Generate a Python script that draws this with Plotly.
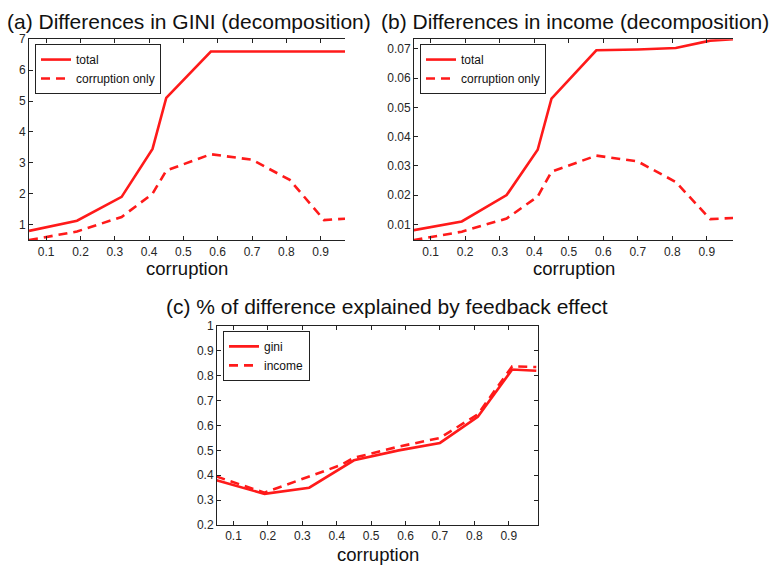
import plotly.graph_objects as go

W, H = 770, 572

corruption = [0.05, 0.19, 0.32, 0.41, 0.45, 0.58, 0.70, 0.81, 0.91, 0.98]

gini_total = [0.80, 1.13, 1.90, 3.45, 5.10, 6.60, 6.60, 6.60, 6.60, 6.60]
gini_corr_only = [0.50, 0.78, 1.25, 2.00, 2.75, 3.28, 3.10, 2.45, 1.15, 1.20]

income_total = [0.0080, 0.0110, 0.0200, 0.0355, 0.0530, 0.0695, 0.0698, 0.0703, 0.0728, 0.0733]
income_corr_only = [0.0046, 0.0075, 0.0120, 0.0195, 0.0280, 0.0335, 0.0315, 0.0245, 0.0118, 0.0122]

feedback_gini = [0.380, 0.325, 0.350, 0.425, 0.460, 0.500, 0.530, 0.635, 0.825, 0.820]
feedback_income = [0.395, 0.330, 0.395, 0.440, 0.470, 0.515, 0.550, 0.645, 0.838, 0.835]

titles = ["(a) Differences in GINI (decomposition)",
          "(b) Differences in income (decomposition)",
          "(c) % of difference explained by feedback effect"]
xlabel = "corruption"
x_ticks = [0.1, 0.2, 0.3, 0.4, 0.5, 0.6, 0.7, 0.8, 0.9]

RED = "#ff1a1a"
DASH = "9px,6px"
FONT = "Liberation Sans, Arial, sans-serif"
TICKC = "#262626"

def px_x(p):
    return p / W

def px_y(p):
    return 1 - p / H

# panel boxes in pixels: left, right, top, bottom
boxes = {
    "a": (29, 345, 33, 239),
    "b": (414, 733, 33, 239),
    "c": (217, 538, 327, 531),
}

fig = go.Figure()

def add_pair(xa, ya, y1, y2, n1, n2, legend):
    fig.add_trace(go.Scatter(x=corruption, y=y1, mode="lines", name=n1,
                             line=dict(color=RED, width=2.6), xaxis=xa, yaxis=ya,
                             legend=legend))
    fig.add_trace(go.Scatter(x=corruption, y=y2, mode="lines", name=n2,
                             line=dict(color=RED, width=2.6, dash=DASH), xaxis=xa, yaxis=ya,
                             legend=legend))

add_pair("x", "y", gini_total, gini_corr_only, "total", "corruption only", "legend")
add_pair("x2", "y2", income_total, income_corr_only, "total", "corruption only", "legend2")
add_pair("x3", "y3", feedback_gini, feedback_income, "gini", "income", "legend3")

xranges = {"a": [0.05, 0.971], "b": [0.0516, 0.976], "c": [0.052, 0.985]}
yranges = {"a": [0.5, 7], "b": [0.0046, 0.0733], "c": [0.2, 1.0]}
ydticks = {"a": 1, "b": 0.01, "c": 0.1}
ytick0 = {"a": 1, "b": 0.01, "c": 0.2}

common_axis = dict(showgrid=False, zeroline=False, showline=True, linecolor="#222",
                   linewidth=1, ticks="inside", ticklen=4, tickcolor="#222",
                   tickfont=dict(family=FONT, size=12, color=TICKC))

layout = dict(width=W, height=H, margin=dict(l=0, r=0, t=0, b=0),
              paper_bgcolor="white", plot_bgcolor="white", showlegend=True)

keys = ["a", "b", "c"]
for i, k in enumerate(keys):
    l, r, t, b = boxes[k]
    sx = "" if i == 0 else str(i + 1)
    xd = [px_x(l), px_x(r)]
    yd = [px_y(b), px_y(t)]
    mirror_y = "ticks" if k == "c" else False
    layout["xaxis" + sx] = dict(domain=xd, range=xranges[k], anchor="y" + sx,
                                tickvals=x_ticks, ticktext=[f"{v:.1f}" for v in x_ticks],
                                mirror="ticks", **common_axis)
    layout["yaxis" + sx] = dict(domain=yd, range=yranges[k], anchor="x" + sx,
                                tick0=ytick0[k], dtick=ydticks[k], mirror=mirror_y,
                                **common_axis)
    if k != "c":
        rid = str(i + 4)
        ax = dict(common_axis)
        ax.update(showline=False, showticklabels=False)
        layout["yaxis" + rid] = dict(domain=yd, range=yranges[k], overlaying="y" + sx,
                                     anchor="x" + sx, side="right",
                                     tick0=ytick0[k], dtick=ydticks[k], **ax)
    lname = "legend" if i == 0 else "legend" + str(i + 1)
    layout[lname] = dict(x=px_x(l + 6), y=px_y(t + 5), xanchor="left", yanchor="top",
                         bgcolor="white", bordercolor="#222", borderwidth=1,
                         font=dict(family=FONT, size=12, color="#111"),
                         tracegroupgap=0, itemwidth=30)

fig.update_layout(**layout)

annos = []
title_pos = [((29 + 345) / 2 + 2, 15), ((414 + 733) / 2 + 1, 15), (387, 307)]
for txt, (cx, cy) in zip(titles, title_pos):
    annos.append(dict(text=txt, x=px_x(cx), y=px_y(cy), xref="paper", yref="paper",
                      xanchor="center", yanchor="middle", showarrow=False,
                      font=dict(family=FONT, size=21, color="#111")))
for cx, cy in [((29 + 345) / 2, 268), ((414 + 733) / 2, 268), ((217 + 538) / 2, 561)]:
    annos.append(dict(text=xlabel, x=px_x(cx), y=px_y(cy), xref="paper", yref="paper",
                      xanchor="center", yanchor="middle", showarrow=False,
                      font=dict(family=FONT, size=18.5, color="#111")))
fig.update_layout(annotations=annos)

fig.write_html("out.html",
               config={"displayModeBar": False},
               post_script="document.body.style.margin='0';"
                           "document.body.style.overflow='hidden';")
